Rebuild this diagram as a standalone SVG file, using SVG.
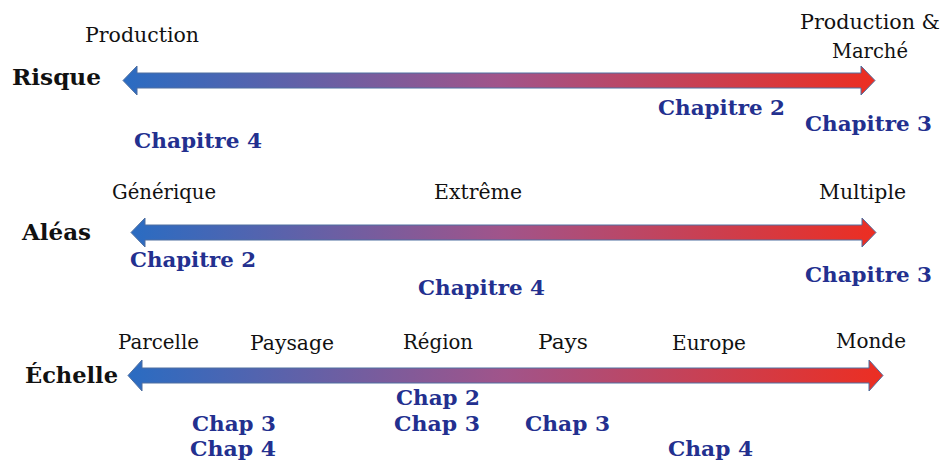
<svg xmlns="http://www.w3.org/2000/svg" width="943" height="460" viewBox="0 0 943 460">
<defs>
<linearGradient id="g" x1="0" y1="0" x2="1" y2="0">
<stop offset="0" stop-color="#2a6cc2"/>
<stop offset="0.5" stop-color="#a1548a"/>
<stop offset="1" stop-color="#ec2e22"/>
</linearGradient>
<style>
.ar{fill:url(#g);stroke:#4f6fa0;stroke-width:1}
.t{font-family:'DejaVu Serif','Liberation Serif',serif;font-size:20px;fill:#111}
.h{font-family:'DejaVu Serif','Liberation Serif',serif;font-size:22px;font-weight:bold;fill:#111}
.c{font-family:'DejaVu Serif','Liberation Serif',serif;font-size:21px;font-weight:bold;fill:#23308f}
</style>
</defs>
<g id="connectors">
<polygon id="arrow-risque" class="ar" points="123,80.5 137,66 137,73 861,73 861,66 875,80.5 861,95 861,88 137,88 137,95"/>
<polygon id="arrow-aleas" class="ar" points="131,232.5 145,218 145,225 862,225 862,218 876,232.5 862,247 862,240 145,240 145,247"/>
<polygon id="arrow-echelle" class="ar" points="128,375.5 142,360 142,368 869,368 869,360 883,375.5 869,391 869,383 142,383 142,391"/>
</g>
<g id="risque">
<text class="h" x="12" y="85" textLength="89" lengthAdjust="spacingAndGlyphs">Risque</text>
<text class="t" x="85" y="42" textLength="114" lengthAdjust="spacingAndGlyphs">Production</text>
<text class="t" x="800" y="29" textLength="140" lengthAdjust="spacingAndGlyphs">Production &amp;</text>
<text class="t" x="832" y="58" textLength="76" lengthAdjust="spacingAndGlyphs">Marché</text>
<text class="c" x="658" y="115" textLength="127" lengthAdjust="spacingAndGlyphs">Chapitre 2</text>
<text class="c" x="805" y="131" textLength="127" lengthAdjust="spacingAndGlyphs">Chapitre 3</text>
<text class="c" x="134" y="148" textLength="128" lengthAdjust="spacingAndGlyphs">Chapitre 4</text>
</g>
<g id="aleas">
<text class="h" x="22" y="240" textLength="69" lengthAdjust="spacingAndGlyphs">Aléas</text>
<text class="t" x="112" y="199" textLength="104" lengthAdjust="spacingAndGlyphs">Générique</text>
<text class="t" x="434" y="199" textLength="88" lengthAdjust="spacingAndGlyphs">Extrême</text>
<text class="t" x="819" y="199" textLength="87" lengthAdjust="spacingAndGlyphs">Multiple</text>
<text class="c" x="130" y="267" textLength="126" lengthAdjust="spacingAndGlyphs">Chapitre 2</text>
<text class="c" x="805" y="282" textLength="127" lengthAdjust="spacingAndGlyphs">Chapitre 3</text>
<text class="c" x="418" y="295" textLength="127" lengthAdjust="spacingAndGlyphs">Chapitre 4</text>
</g>
<g id="echelle">
<text class="h" x="25" y="383" textLength="93" lengthAdjust="spacingAndGlyphs">Échelle</text>
<text class="t" x="118" y="349" textLength="81" lengthAdjust="spacingAndGlyphs">Parcelle</text>
<text class="t" x="250" y="350" textLength="84" lengthAdjust="spacingAndGlyphs">Paysage</text>
<text class="t" x="403" y="349" textLength="70" lengthAdjust="spacingAndGlyphs">Région</text>
<text class="t" x="538" y="349" textLength="50" lengthAdjust="spacingAndGlyphs">Pays</text>
<text class="t" x="672" y="350" textLength="74" lengthAdjust="spacingAndGlyphs">Europe</text>
<text class="t" x="836" y="348" textLength="70" lengthAdjust="spacingAndGlyphs">Monde</text>
<text class="c" x="396" y="405" textLength="84" lengthAdjust="spacingAndGlyphs">Chap 2</text>
<text class="c" x="394" y="431" textLength="86" lengthAdjust="spacingAndGlyphs">Chap 3</text>
<text class="c" x="192" y="431" textLength="84" lengthAdjust="spacingAndGlyphs">Chap 3</text>
<text class="c" x="190" y="456" textLength="86" lengthAdjust="spacingAndGlyphs">Chap 4</text>
<text class="c" x="525" y="431" textLength="85" lengthAdjust="spacingAndGlyphs">Chap 3</text>
<text class="c" x="668" y="456" textLength="85" lengthAdjust="spacingAndGlyphs">Chap 4</text>
</g>
</svg>
